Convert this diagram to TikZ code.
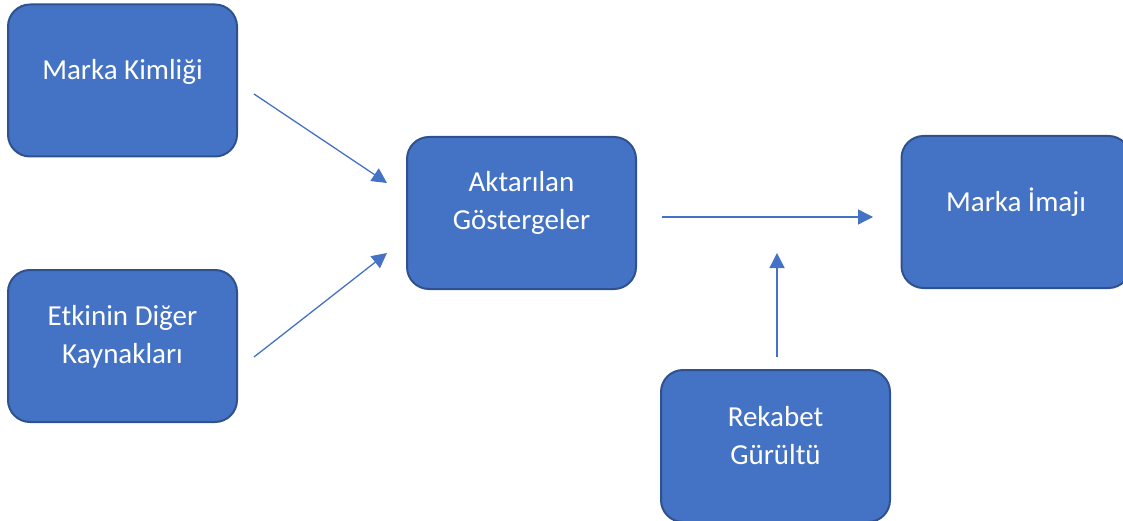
\documentclass[tikz,border=0pt]{standalone}
\usepackage{fontspec}
\setmainfont{Carlito}
\usetikzlibrary{arrows.meta,calc}
\definecolor{boxfill}{HTML}{4472C4}
\definecolor{boxline}{HTML}{2F528F}
\definecolor{arrowcol}{HTML}{4472C4}
\tikzset{
  box/.style={draw=boxline, line width=2pt, fill=boxfill, rounded corners=22pt,
    minimum width=229pt, minimum height=152pt, inner sep=0pt},
  txt/.style={text=white, align=center, font=\fontsize{29}{38}\selectfont, inner sep=0pt},
  conn/.style={draw=arrowcol, line width=1.3pt, -{Triangle[length=15pt,width=15pt]}}
}
\begin{document}
\begin{tikzpicture}[x=1pt,y=-1pt]
\useasboundingbox (0,0) rectangle (1123,521);
\begin{scope}
\clip (0,0) rectangle (1123,521);
\node[box] (mk) at (122.5,80.5) {};
\node[box] (ek) at (122.5,346) {};
\node[box] (ag) at (521.5,213) {};
\node[box] (mi) at (1016,212) {};
\node[box] (rg) at (775.5,446) {};
\end{scope}
\node[txt] (mkt) at ($(mk.center)+(0,-9)$) {Marka Kimliği};
\node[txt] (ekt) at ($(ek.center)+(0,-9)$) {Etkinin Diğer\\Kaynakları};
\node[txt] (agt) at ($(ag.center)+(0,-10)$) {Aktarılan\\Göstergeler};
\node[txt] (mit) at ($(mi.center)+(0,-10)$) {Marka İmajı};
\node[txt] (rgt) at ($(rg.center)+(0,-10)$) {Rekabet\\Gürültü};
\coordinate (a1s) at (254,94);
\coordinate (a1e) at (387,183);
\coordinate (a2s) at (254,357);
\coordinate (a2e) at (387,253);
\coordinate (a3s) at (662,217);
\coordinate (a3e) at (873,217);
\coordinate (a4s) at (777,357);
\coordinate (a4e) at (777,253);
\draw[conn] (a1s) -- (a1e);
\draw[conn] (a2s) -- (a2e);
\draw[conn] (a3s) -- (a3e);
\draw[conn] (a4s) -- (a4e);
\end{tikzpicture}
\end{document}
